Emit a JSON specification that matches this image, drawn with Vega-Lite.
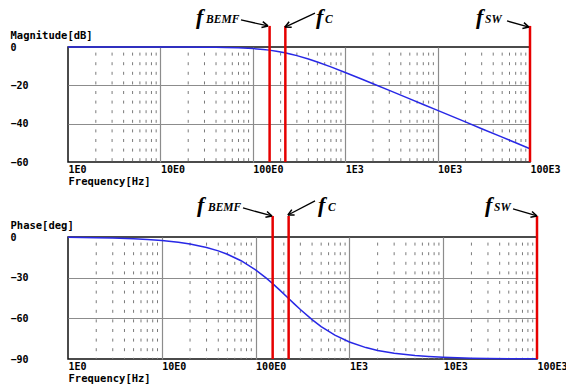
{
  "$schema": "https://vega.github.io/schema/vega-lite/v6.json",
  "autosize": {"type": "none"},
  "padding": {"left": 68, "top": 47, "right": 498, "bottom": 338},
  "background": "white",
  "spacing": 75,
  "bounds": "flush",
  "datasets": {
    "bode": [
      {"f": 1, "mag": 0, "ph": -0.26}, {"f": 2, "mag": 0, "ph": -0.52}, {"f": 3, "mag": 0, "ph": -0.77},
      {"f": 5, "mag": 0, "ph": -1.29}, {"f": 7, "mag": 0, "ph": -1.81}, {"f": 10, "mag": -0.01, "ph": -2.58},
      {"f": 15, "mag": -0.02, "ph": -3.87}, {"f": 20, "mag": -0.04, "ph": -5.15}, {"f": 30, "mag": -0.08, "ph": -7.7},
      {"f": 40, "mag": -0.14, "ph": -10.21}, {"f": 50, "mag": -0.22, "ph": -12.69}, {"f": 70, "mag": -0.41, "ph": -17.5},
      {"f": 100, "mag": -0.8, "ph": -24.25}, {"f": 130, "mag": -1.28, "ph": -30.35}, {"f": 150, "mag": -1.63, "ph": -34.04},
      {"f": 180, "mag": -2.19, "ph": -39.04}, {"f": 222, "mag": -3.01, "ph": -45.0}, {"f": 260, "mag": -3.75, "ph": -49.5},
      {"f": 300, "mag": -4.51, "ph": -53.5}, {"f": 400, "mag": -6.28, "ph": -60.97}, {"f": 500, "mag": -7.83, "ph": -66.05},
      {"f": 700, "mag": -10.39, "ph": -72.41}, {"f": 1000, "mag": -13.28, "ph": -77.48}, {"f": 1500, "mag": -16.69, "ph": -81.58},
      {"f": 2000, "mag": -19.15, "ph": -83.67}, {"f": 3000, "mag": -22.64, "ph": -85.77}, {"f": 5000, "mag": -27.06, "ph": -87.46},
      {"f": 7000, "mag": -29.98, "ph": -88.18}, {"f": 10000, "mag": -33.08, "ph": -88.73}, {"f": 20000, "mag": -39.09, "ph": -89.36},
      {"f": 30000, "mag": -42.62, "ph": -89.58}, {"f": 50000, "mag": -47.05, "ph": -89.75}, {"f": 70000, "mag": -49.98, "ph": -89.82},
      {"f": 100000, "mag": -53.07, "ph": -89.87}
    ],
    "minor": [
      {"f": 2}, {"f": 3}, {"f": 4}, {"f": 5}, {"f": 6}, {"f": 7}, {"f": 8}, {"f": 9},
      {"f": 20}, {"f": 30}, {"f": 40}, {"f": 50}, {"f": 60}, {"f": 70}, {"f": 80}, {"f": 90},
      {"f": 200}, {"f": 300}, {"f": 400}, {"f": 500}, {"f": 600}, {"f": 700}, {"f": 800}, {"f": 900},
      {"f": 2000}, {"f": 3000}, {"f": 4000}, {"f": 5000}, {"f": 6000}, {"f": 7000}, {"f": 8000}, {"f": 9000},
      {"f": 20000}, {"f": 30000}, {"f": 40000}, {"f": 50000}, {"f": 60000}, {"f": 70000}, {"f": 80000}, {"f": 90000}
    ],
    "markers": [
      {"n": "BEMF", "f": 152, "top": 11, "bot": -60, "ptop": 15.5, "pbot": -90},
      {"n": "C", "f": 225, "top": 11, "bot": -60, "ptop": 15.5, "pbot": -90},
      {"n": "SW", "f": 100000, "top": 11, "bot": -60, "ptop": 15.5, "pbot": -90}
    ],
    "mainTop": [{"t": "f", "f": 24.3, "v": 12.0}, {"t": "f", "f": 483, "v": 12.0}, {"t": "f", "f": 26000, "v": 12.0}],
    "subTop": [{"t": "BEMF", "f": 31.2, "v": 12.5}, {"t": "C", "f": 604, "v": 12.5}, {"t": "SW", "f": 32600, "v": 12.5}],
    "arrowsTop": [
      {"n": "BEMF", "f": 74.5, "v": 14.1, "f2": 146, "v2": 11.0},
      {"n": "C", "f": 471, "v": 17.7, "f2": 223, "v2": 10.4},
      {"n": "SW", "f": 56400, "v": 13.6, "f2": 97500, "v2": 10.4}
    ],
    "mainBot": [{"t": "f", "f": 23.7, "v": 18.4}, {"t": "f", "f": 463, "v": 18.4}, {"t": "f", "f": 27900, "v": 18.4}],
    "subBot": [{"t": "BEMF", "f": 31.1, "v": 19.2}, {"t": "C", "f": 591, "v": 19.2}, {"t": "SW", "f": 34800, "v": 19.2}],
    "arrowsBot": [
      {"n": "BEMF", "f": 73.4, "v": 21.4, "f2": 149.6, "v2": 15.5},
      {"n": "C", "f": 430, "v": 26.6, "f2": 221, "v2": 16.2},
      {"n": "SW", "f": 55500, "v": 20.7, "f2": 100000, "v2": 15.5}
    ]
  },
  "config": {
    "view": {"stroke": "#111", "strokeWidth": 1.5},
    "axis": {
      "grid": true, "gridColor": "#8c8c8c", "gridWidth": 1.2, "domain": false, "ticks": false, "tickSize": 0,
      "labelFont": "DejaVu Sans Mono", "labelFontWeight": "bold", "labelFontSize": 10, "labelColor": "#000",
      "titleFont": "DejaVu Sans Mono", "titleFontWeight": "bold", "titleFontSize": 10.5, "titleColor": "#000",
      "labelOverlap": false
    },
    "axisX": {
      "labelAlign": "left", "labelBaseline": "middle", "labelPadding": 7, "labelOverlap": false, "labelBound": false, "labelFlush": false,
      "titleX": 0, "titleY": 19, "titleAlign": "left", "titleAnchor": "start", "titleBaseline": "middle"
    },
    "axisY": {
      "labelAlign": "left", "labelBaseline": "middle", "labelPadding": 58, "labelOverlap": false, "labelFlush": false,
      "titleAngle": 0, "titleX": -58, "titleY": -12, "titleAlign": "left", "titleBaseline": "middle"
    }
  },
  "vconcat": [
    {
      "width": 462, "height": 115,
      "layer": [
        {
          "data": {"name": "minor"},
          "mark": {"type": "rule", "color": "#7a7a7a", "strokeWidth": 1, "strokeDash": [3, 6.6], "strokeDashOffset": 4},
          "encoding": {
            "x": {"field": "f", "type": "quantitative", "title": "Frequency[Hz]",
              "scale": {"type": "log", "domain": [1, 100000], "nice": false},
              "axis": {"values": [1, 10, 100, 1000, 10000, 100000],
                "gridColor": {"condition": {"test": "datum.value == 1 || datum.value == 100000", "value": "transparent"}, "value": "#8c8c8c"},
                "labelExpr": "datum.value == 1 ? '1E0' : datum.value == 10 ? '10E0' : datum.value == 100 ? '100E0' : datum.value == 1000 ? '1E3' : datum.value == 10000 ? '10E3' : '100E3'"}}
          }
        },
        {
          "data": {"name": "bode"},
          "mark": {"type": "line", "color": "#2828e6", "strokeWidth": 1.5},
          "encoding": {
            "x": {"field": "f", "type": "quantitative", "title": "Frequency[Hz]"},
            "y": {"field": "mag", "type": "quantitative", "title": "Magnitude[dB]",
              "scale": {"domain": [-60, 0], "nice": false, "zero": false},
              "axis": {"values": [0, -20, -40, -60], "tickCount": 4,
                "gridColor": {"condition": {"test": "datum.value == 0 || datum.value == -60", "value": "transparent"}, "value": "#8c8c8c"}}}
          }
        },
        {
          "data": {"name": "markers"},
          "mark": {"type": "rule", "color": "#e60000", "strokeWidth": 2.5},
          "encoding": {
            "x": {"field": "f", "type": "quantitative", "title": "Frequency[Hz]"},
            "y": {"field": "top", "type": "quantitative", "title": "Magnitude[dB]", "axis": {"values": [0, -20, -40, -60]}},
            "y2": {"field": "bot"}
          }
        },
        {
          "data": {"name": "arrowsTop"},
          "mark": {"type": "rule", "color": "#000", "strokeWidth": 1.3},
          "encoding": {
            "x": {"field": "f", "type": "quantitative", "title": "Frequency[Hz]"},
            "y": {"field": "v", "type": "quantitative", "title": "Magnitude[dB]", "axis": {"values": [0, -20, -40, -60]}},
            "x2": {"field": "f2"}, "y2": {"field": "v2"}
          }
        },
        {
          "data": {"name": "arrowsTop"},
          "transform": [{"filter": "datum.n == 'BEMF'"}],
          "mark": {"type": "point", "shape": "M0,0L-1,-0.5M0,0L-1,0.5", "size": 144, "angle": 12.5, "filled": false, "color": "#000", "strokeWidth": 1.5, "opacity": 1},
          "encoding": {
            "x": {"field": "f2", "type": "quantitative", "title": "Frequency[Hz]"},
            "y": {"field": "v2", "type": "quantitative", "title": "Magnitude[dB]", "axis": {"values": [0, -20, -40, -60]}}
          }
        },
        {
          "data": {"name": "arrowsTop"},
          "transform": [{"filter": "datum.n == 'C'"}],
          "mark": {"type": "point", "shape": "M0,0L-1,-0.5M0,0L-1,0.5", "size": 144, "angle": 155, "filled": false, "color": "#000", "strokeWidth": 1.5, "opacity": 1},
          "encoding": {
            "x": {"field": "f2", "type": "quantitative", "title": "Frequency[Hz]"},
            "y": {"field": "v2", "type": "quantitative", "title": "Magnitude[dB]", "axis": {"values": [0, -20, -40, -60]}}
          }
        },
        {
          "data": {"name": "arrowsTop"},
          "transform": [{"filter": "datum.n == 'SW'"}],
          "mark": {"type": "point", "shape": "M0,0L-1,-0.5M0,0L-1,0.5", "size": 144, "angle": 15, "filled": false, "color": "#000", "strokeWidth": 1.5, "opacity": 1},
          "encoding": {
            "x": {"field": "f2", "type": "quantitative", "title": "Frequency[Hz]"},
            "y": {"field": "v2", "type": "quantitative", "title": "Magnitude[dB]", "axis": {"values": [0, -20, -40, -60]}}
          }
        },
        {
          "data": {"name": "mainTop"},
          "mark": {"type": "text", "align": "left", "baseline": "alphabetic", "font": "Liberation Serif", "fontStyle": "italic", "fontWeight": "bold", "fontSize": 22, "color": "#000"},
          "encoding": {
            "x": {"field": "f", "type": "quantitative", "title": "Frequency[Hz]"},
            "y": {"field": "v", "type": "quantitative", "title": "Magnitude[dB]", "axis": {"values": [0, -20, -40, -60]}},
            "text": {"field": "t"}
          }
        },
        {
          "data": {"name": "subTop"},
          "mark": {"type": "text", "align": "left", "baseline": "alphabetic", "font": "Liberation Serif", "fontStyle": "italic", "fontWeight": "bold", "fontSize": 11.5, "color": "#000"},
          "encoding": {
            "x": {"field": "f", "type": "quantitative", "title": "Frequency[Hz]"},
            "y": {"field": "v", "type": "quantitative", "title": "Magnitude[dB]", "axis": {"values": [0, -20, -40, -60]}},
            "text": {"field": "t"}
          }
        }
      ]
    },
    {
      "width": 469, "height": 122,
      "layer": [
        {
          "data": {"name": "minor"},
          "mark": {"type": "rule", "color": "#7a7a7a", "strokeWidth": 1, "strokeDash": [3, 6.6], "strokeDashOffset": 4},
          "encoding": {
            "x": {"field": "f", "type": "quantitative", "title": "Frequency[Hz]",
              "scale": {"type": "log", "domain": [1, 100000], "nice": false},
              "axis": {"values": [1, 10, 100, 1000, 10000, 100000],
                "gridColor": {"condition": {"test": "datum.value == 1 || datum.value == 100000", "value": "transparent"}, "value": "#8c8c8c"},
                "labelExpr": "datum.value == 1 ? '1E0' : datum.value == 10 ? '10E0' : datum.value == 100 ? '100E0' : datum.value == 1000 ? '1E3' : datum.value == 10000 ? '10E3' : '100E3'"}}
          }
        },
        {
          "data": {"name": "bode"},
          "mark": {"type": "line", "color": "#2828e6", "strokeWidth": 1.5},
          "encoding": {
            "x": {"field": "f", "type": "quantitative", "title": "Frequency[Hz]"},
            "y": {"field": "ph", "type": "quantitative", "title": "Phase[deg]",
              "scale": {"domain": [-90, 0], "nice": false, "zero": false},
              "axis": {"values": [0, -30, -60, -90],
                "gridColor": {"condition": {"test": "datum.value == 0 || datum.value == -90", "value": "transparent"}, "value": "#8c8c8c"}}}
          }
        },
        {
          "data": {"name": "markers"},
          "mark": {"type": "rule", "color": "#e60000", "strokeWidth": 2.5},
          "encoding": {
            "x": {"field": "f", "type": "quantitative", "title": "Frequency[Hz]"},
            "y": {"field": "ptop", "type": "quantitative", "title": "Phase[deg]"},
            "y2": {"field": "pbot"}
          }
        },
        {
          "data": {"name": "arrowsBot"},
          "mark": {"type": "rule", "color": "#000", "strokeWidth": 1.3},
          "encoding": {
            "x": {"field": "f", "type": "quantitative", "title": "Frequency[Hz]"},
            "y": {"field": "v", "type": "quantitative", "title": "Phase[deg]"},
            "x2": {"field": "f2"}, "y2": {"field": "v2"}
          }
        },
        {
          "data": {"name": "arrowsBot"},
          "transform": [{"filter": "datum.n == 'BEMF'"}],
          "mark": {"type": "point", "shape": "M0,0L-1,-0.5M0,0L-1,0.5", "size": 144, "angle": 15.4, "filled": false, "color": "#000", "strokeWidth": 1.5, "opacity": 1},
          "encoding": {
            "x": {"field": "f2", "type": "quantitative", "title": "Frequency[Hz]"},
            "y": {"field": "v2", "type": "quantitative", "title": "Phase[deg]"}
          }
        },
        {
          "data": {"name": "arrowsBot"},
          "transform": [{"filter": "datum.n == 'C'"}],
          "mark": {"type": "point", "shape": "M0,0L-1,-0.5M0,0L-1,0.5", "size": 144, "angle": 152.6, "filled": false, "color": "#000", "strokeWidth": 1.5, "opacity": 1},
          "encoding": {
            "x": {"field": "f2", "type": "quantitative", "title": "Frequency[Hz]"},
            "y": {"field": "v2", "type": "quantitative", "title": "Phase[deg]"}
          }
        },
        {
          "data": {"name": "arrowsBot"},
          "transform": [{"filter": "datum.n == 'SW'"}],
          "mark": {"type": "point", "shape": "M0,0L-1,-0.5M0,0L-1,0.5", "size": 144, "angle": 15.6, "filled": false, "color": "#000", "strokeWidth": 1.5, "opacity": 1},
          "encoding": {
            "x": {"field": "f2", "type": "quantitative", "title": "Frequency[Hz]"},
            "y": {"field": "v2", "type": "quantitative", "title": "Phase[deg]"}
          }
        },
        {
          "data": {"name": "mainBot"},
          "mark": {"type": "text", "align": "left", "baseline": "alphabetic", "font": "Liberation Serif", "fontStyle": "italic", "fontWeight": "bold", "fontSize": 22, "color": "#000"},
          "encoding": {
            "x": {"field": "f", "type": "quantitative", "title": "Frequency[Hz]"},
            "y": {"field": "v", "type": "quantitative", "title": "Phase[deg]"},
            "text": {"field": "t"}
          }
        },
        {
          "data": {"name": "subBot"},
          "mark": {"type": "text", "align": "left", "baseline": "alphabetic", "font": "Liberation Serif", "fontStyle": "italic", "fontWeight": "bold", "fontSize": 11.5, "color": "#000"},
          "encoding": {
            "x": {"field": "f", "type": "quantitative", "title": "Frequency[Hz]"},
            "y": {"field": "v", "type": "quantitative", "title": "Phase[deg]"},
            "text": {"field": "t"}
          }
        }
      ]
    }
  ]
}
